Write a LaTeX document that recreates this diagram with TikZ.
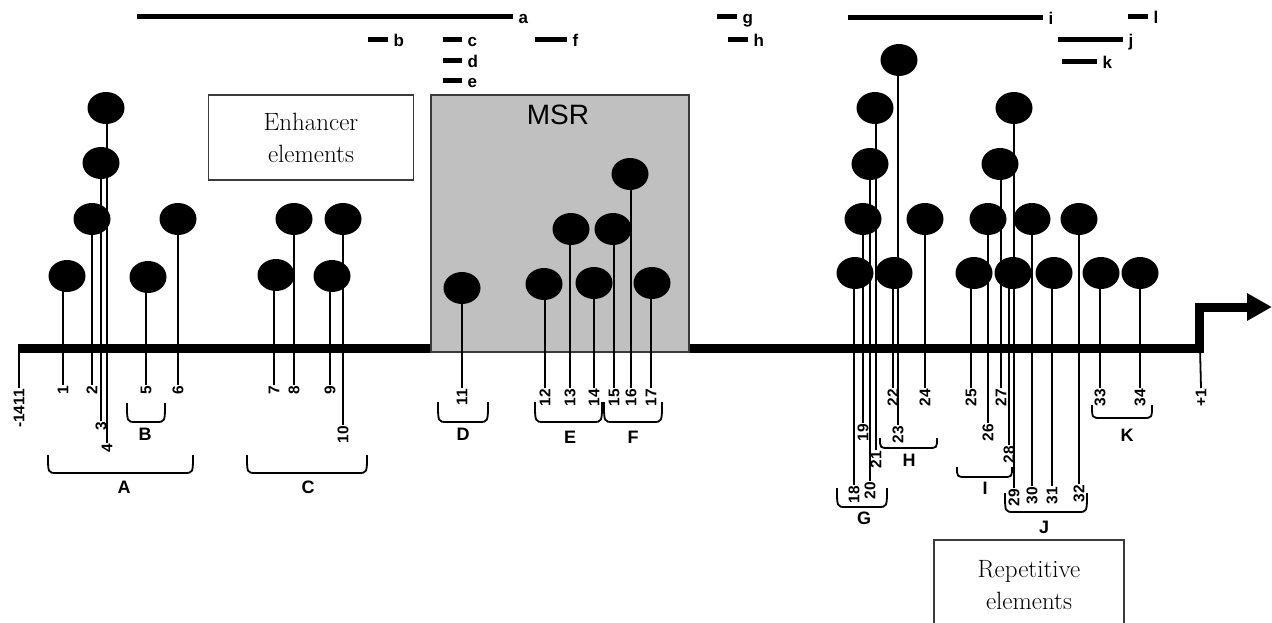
\documentclass[tikz,border=0pt]{standalone}
\usepackage{fontspec}
\usepackage{tikz}
\usetikzlibrary{arrows.meta,shapes.geometric}
\newfontfamily\labfont{Liberation Sans}
\definecolor{PromLine}{HTML}{000000}
\definecolor{PromRegion}{HTML}{C0C0C0}
\definecolor{PromFrame}{HTML}{3A3A3A}

\begin{document}
\begin{tikzpicture}[x=1pt,y=-1pt,
    site/.style={ellipse,fill=PromLine,minimum width=37pt,minimum height=32pt,inner sep=0pt},
    num/.style={rotate=90,anchor=east,inner sep=1pt,font=\labfont\bfseries\fontsize{15.5}{15.5}\selectfont},
    grp/.style={inner sep=0pt,font=\labfont\bfseries\fontsize{18}{18}\selectfont},
    tag/.style={anchor=base west,inner sep=3pt,yshift=-7pt,font=\labfont\bfseries\fontsize{17}{17}\selectfont},
    stem/.style={draw=PromLine,line width=1.8pt},
    bar/.style={draw=PromLine,line width=5pt},
    brk/.style={draw=PromLine,line width=1.8pt},
    note/.style={draw=PromFrame,line width=1.5pt,align=center,inner sep=0pt,font=\fontsize{25}{32}\selectfont}]
    \useasboundingbox (0,0) rectangle (1272,623);

    \draw[PromLine,line width=9pt,-{Triangle[length=25pt,width=26pt]}] (18,348) -- (1199,348) -- (1199,307) -- (1272,307);

    \node[draw=PromFrame,fill=PromRegion,line width=1.5pt,minimum width=258pt,minimum height=257pt,inner sep=0pt] (msr) at (560,223.5) {};
    \node[font=\labfont\fontsize{28}{28}\selectfont] (msrlab) at (558,115) {MSR};

    \node[note,minimum width=205pt,minimum height=85pt] (enh) at (311,137.5) {Enhancer\\elements};
    \node[note,minimum width=190pt,minimum height=90pt] (rep) at (1029,585) {Repetitive\\elements};

    \foreach \n/\x/\cx/\cy/\ly in {1/63/67/276/385,2/92/92/219/385,3/101/101/163/421,4/107/106/108/443,
        5/146/148/277/385,6/178/178/219/385,7/274/276/275/385,8/294/294/219/385,9/330/332/276/385,
        10/343/343/219/425,11/462/462/288/388,12/545/544/284/388,13/570/571/229/388,14/594/594/283/388,
        15/614/613/229/388,16/631/630/174/388,17/651/652/283/388,18/854/855/273/485,19/863/863/219/423,
        20/870/870/164/481,21/876/875/108/450,22/893/894/273/388,23/898/899/60/425,24/925/925/219/388,
        25/971/974/273/388,26/988/988/219/423,27/1001/1000/164/388,28/1009/1013/273/445,
        29/1014/1014/108/488,30/1032/1032/219/486,31/1052/1054/273/486,32/1079/1079/219/484,
        33/1100/1101/273/388,34/1140/1140/273/388} {
      \node[site] (c\n) at (\cx,\cy) {};
      \node[num] (l\n) at (\x,\ly) {\n};
      \draw[stem] (l\n.east) -- (l\n.east |- c\n.center);
    }

    \coordinate (start) at (19,348);
    \node[num] (lstart) at (19,388) {-1411};
    \draw[stem] (start) -- (lstart.east);
    \coordinate (tss) at (1200,348);
    \node[num] (ltss) at (1201,388) {+1};
    \draw[stem] (tss) -- (ltss.east);

    \foreach \xa/\xb/\yy/\t in {137/513/17/a,368/388/40/b,443/462/40/c,443/462/61/d,443/462/81/e,
        535/567/40/f,717/737/17/g,728/748/40/h,848/1043/18/i,1128/1148/17/l,1058/1123/40/j,1062/1097/62/k} {
      \draw[bar] (\xa,\yy) -- (\xb,\yy) node[tag] {\t};
    }

    \foreach \g/\xa/\xb/\ya/\yb/\lx/\ly in {A/48/193/455/473/124/487,B/127/165/403/422/145/434,
        C/247/367/455/473/308/487,D/438/488/402/422/463/434,E/535/602/402/422/570/437,
        F/604/662/402/422/633/437,G/837/887/488/507/864/518,H/880/937/438/448/909/460,
        I/957/1012/467/477/985/488,J/1005/1087/493/512/1044/527,K/1092/1152/405/418/1127/435} {
      \draw[brk] (\xa,\ya) .. controls (\xa,\yb) .. (\xa+9,\yb) -- (\xb-9,\yb) .. controls (\xb,\yb) .. (\xb,\ya);
      \node[grp] (g\g) at (\lx,\ly) {\g};
    }
  \end{tikzpicture}
\end{document}
